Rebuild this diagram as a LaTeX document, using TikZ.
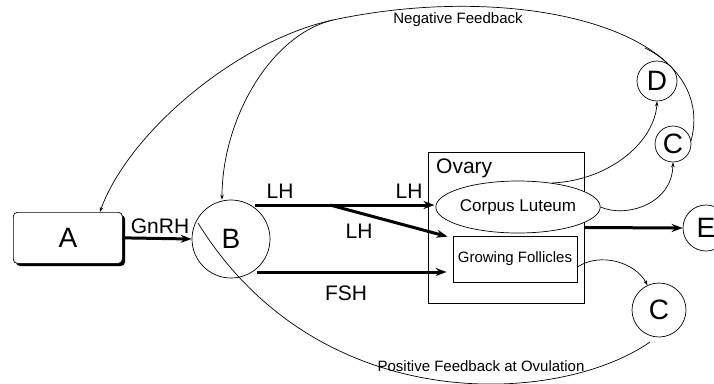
\documentclass[tikz,border=0pt]{standalone}
\usepackage{fontspec}
\setmainfont{Liberation Sans}
\usetikzlibrary{arrows.meta,shapes.geometric}
\begin{document}
\begin{tikzpicture}[x=1pt,y=-1pt,
 circ/.style={circle,draw,line width=0.7pt,inner sep=0pt,font=\fontsize{28}{30}\selectfont},
 big/.style={line width=3pt,-{Stealth[length=11pt,width=8pt]}},
 small/.style={line width=0.7pt,-{Stealth[length=5pt,width=3.5pt]}},
 plain/.style={line width=0.7pt},
 lbl/.style={font=\fontsize{21}{24}\selectfont,inner sep=0pt},
 fb/.style={font=\fontsize{15}{17}\selectfont,inner sep=0pt}]
\useasboundingbox (0,0) rectangle (714,383);
% A with shadow
\fill[black,rounded corners=4pt] (16,215) rectangle (125,266);
\node[draw,line width=0.7pt,fill=white,rounded corners=4pt,minimum width=109pt,minimum height=51pt,anchor=north west,inner sep=0pt,font=\fontsize{28}{30}\selectfont] (A) at (13,212) {A};
% circles
\node[circ,minimum size=78pt] (B) at (231,239) {B};
\node[circ,minimum size=40pt] (D) at (657,81) {D};
\node[circ,minimum size=36pt] (Cu) at (673,144) {C};
\node[circ,minimum size=54pt] (Cl) at (659,310) {C};
\node[circ,minimum size=46pt] (E) at (706,228) {E};
% ovary
\node[draw,line width=0.8pt,minimum width=156pt,minimum height=151pt,inner sep=0pt] (Ov) at (506,227.5) {};
\node[lbl,anchor=base west] (OvL) at (436,173) {Ovary};
\node[ellipse,draw,line width=0.7pt,minimum width=140pt,minimum height=52pt,inner sep=0pt,fill=white,font=\fontsize{17}{19}\selectfont] (CL) at (518,207) {Corpus Luteum};
\node[draw,line width=0.8pt,minimum width=124pt,minimum height=46pt,inner sep=0pt,font=\fontsize{15}{17}\selectfont] (GF) at (515,259) {Growing Follicles};
% GnRH
\draw[big] (A.east) -- (B.west);
\node[lbl] (GnRH) at (160,226) {GnRH};
% LH / FSH
\coordinate (L1) at (255,205);
\coordinate (Lb) at (330,205);
\coordinate (F1) at (257,272);
\draw[big] (L1) -- ([xshift=-1pt]L1 -| CL.west);
\draw[big] (Lb) -- ([xshift=-5pt,yshift=-1pt]GF.north west);
\draw[big] (F1) -- ([xshift=-6pt]F1 -| GF.west);
\node[lbl] (LH1) at (280,191) {LH};
\node[lbl] (LH2) at (409,191) {LH};
\node[lbl] (LH3) at (359,231) {LH};
\node[lbl] (FSH) at (346,293) {FSH};
% to E
\draw[big] (Ov.east) -- (E.west);
% small curves
\draw[small] (CL.35) .. controls (612,180) and (655,140) .. (D.south);
\draw[small] (CL.east) .. controls (625,218) and (672,205) .. (Cu.south);
\draw[small] ([yshift=-8pt]GF.east) .. controls (600,252) and (635,262) .. (Cl.115);
% negative feedback
\coordinate (J) at (333,20);
\coordinate (Dm) at (645,48);
\draw[plain] (Cu.10) .. controls (720,30) and (520,-20) .. (J);
\draw[plain] (D.60) .. controls (662,58) and (655,53) .. (Dm);
\draw[small] (J) .. controls (240,40) and (130,130) .. ([xshift=32pt]A.north);
\draw[small] (J) .. controls (270,35) and (222,120) .. ([xshift=-9pt]B.north);
\node[fb] (NF) at (458,20) {Negative Feedback};
% positive feedback
\coordinate (P1) at (650,342);
\coordinate (P2) at (198,223);
\draw[plain] (P1) .. controls (560,405) and (320,420) .. (P2);
\node[fb] (PF) at (481,366) {Positive Feedback at Ovulation};
\end{tikzpicture}
\end{document}
